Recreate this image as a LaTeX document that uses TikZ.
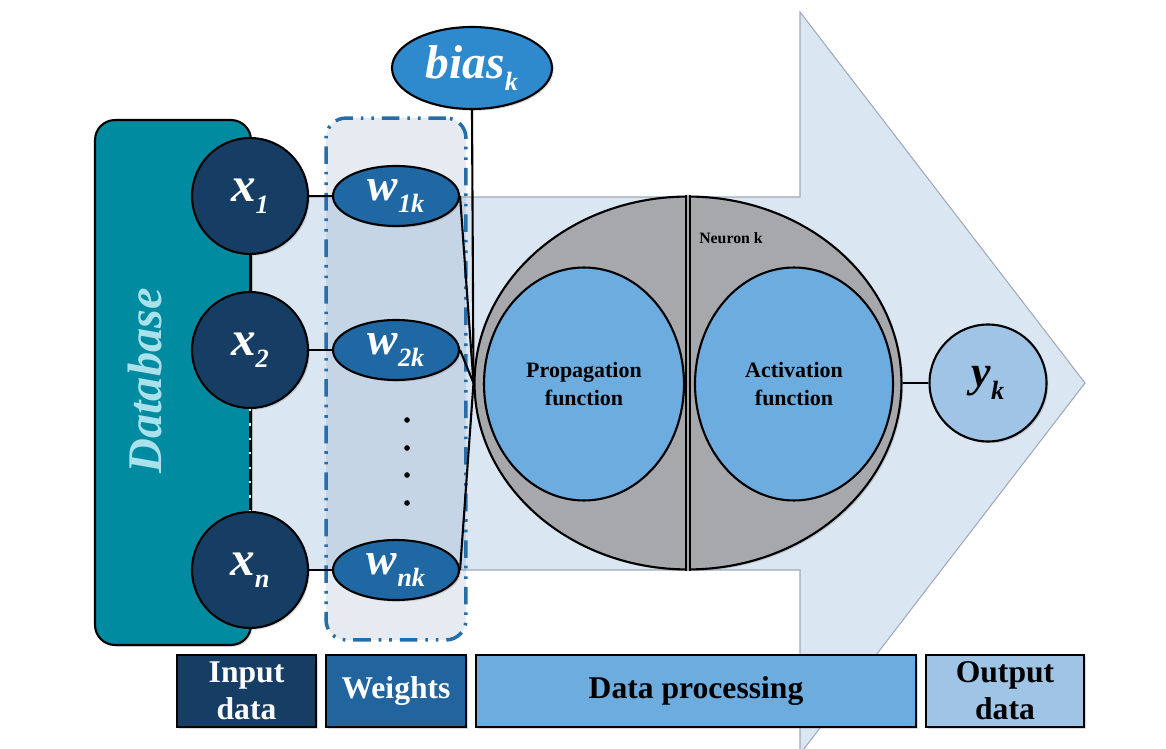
\documentclass[tikz,border=0pt]{standalone}
\usepackage{fontspec}
\setmainfont{Liberation Serif}
\usetikzlibrary{shapes.geometric,shadows}

\definecolor{arrowfill}{RGB}{218,230,242}
\definecolor{arrowline}{RGB}{160,170,182}
\definecolor{dbteal}{RGB}{0,139,161}
\definecolor{dbtext}{RGB}{170,226,236}
\definecolor{xnavy}{RGB}{22,62,100}
\definecolor{wblue}{RGB}{31,104,164}
\definecolor{biasblue}{RGB}{46,138,204}
\definecolor{neurgray}{RGB}{166,168,172}
\definecolor{innerblue}{RGB}{108,172,222}
\definecolor{ylight}{RGB}{159,196,230}
\definecolor{wlegend}{RGB}{33,100,158}
\definecolor{dashblue}{RGB}{38,110,170}
\definecolor{wboxfill}{RGB}{90,120,160}

\newcommand{\lab}[3]{{\fontsize{#1}{#1}\selectfont\bfseries\itshape #2}\raisebox{-7pt}{\fontsize{15}{15}\selectfont\bfseries\itshape #3}}

\tikzset{
  sh/.style={drop shadow={shadow xshift=1pt,shadow yshift=-1pt,opacity=0.3}},
  bord/.style={draw=black,line width=1.2pt},
  xin/.style={circle,bord,fill=xnavy,minimum size=2.32cm,inner sep=0pt,text=white,sh},
  wnode/.style={ellipse,bord,fill=wblue,minimum width=2.52cm,minimum height=1.2cm,inner sep=0pt,text=white,sh},
  inner/.style={ellipse,bord,fill=innerblue,minimum height=4.66cm,inner sep=0pt,align=center,font=\fontsize{12.5}{15.5}\selectfont\bfseries},
  legend/.style={rectangle,draw=black,line width=1.5pt,minimum height=1.44cm,inner sep=0pt,align=center,font=\fontsize{18}{21}\selectfont\bfseries,sh},
  conn/.style={draw=black,line width=1.2pt},
  dashdotdot/.style={draw=dashblue,line width=2pt,dash pattern=on 10pt off 4.5pt on 1.5pt off 4.5pt on 1.5pt off 4.5pt}
}

\begin{document}
\begin{tikzpicture}[x=0.02cm,y=-0.02cm]
\useasboundingbox (0,0) rectangle (1166,749);
\clip (0,0) rectangle (1166,749);

% big arrow
\draw[fill=arrowfill,draw=arrowline,line width=0.6pt]
  (200,197) -- (800,197) -- (800,12) -- (1085,383) -- (800,754) -- (800,570) -- (200,570) -- cycle;

% database
\node[rectangle,rounded corners=0.4cm,bord,fill=dbteal,minimum width=3.12cm,minimum height=10.5cm,inner sep=0pt,sh] (db) at (173,382.5) {};
\node[rotate=90,text=dbtext,font=\fontsize{27.5}{27.5}\selectfont\bfseries\itshape] (dbt) at (145,381) {Database};

% weights box
\node[rectangle,rounded corners=0.4cm,dashdotdot,fill=wboxfill,fill opacity=0.15,minimum width=2.8cm,minimum height=10.44cm,inner sep=0pt] (wbox) at (396,379) {};

% input nodes
\node[xin] (x1) at (250,196) {\lab{28}{x}{1}};
\node[xin] (x2) at (250,350) {\lab{28}{x}{2}};
\node[xin] (xn) at (250,570) {\lab{28}{x}{n}};

\draw[conn] (x1.south) -- (x2.north);
\draw[conn] (x2.south) -- (xn.north);
\draw[white,line width=0.9pt,dash pattern=on 1.2pt off 7pt] (x2.south) -- (xn.north);

% weight nodes
\node[wnode] (w1) at (396,196) {\lab{26}{w}{1k}};
\node[wnode] (w2) at (396,350) {\lab{26}{w}{2k}};
\node[wnode] (wn) at (396,570) {\lab{26}{w}{nk}};

\foreach \yy in {420,448,475,503} \fill (407,\yy) circle (1.6pt);

\draw[conn] (x1.east) -- (w1.west);
\draw[conn] (x2.east) -- (w2.west);
\draw[conn] (xn.east) -- (wn.west);

% bias
\node[ellipse,bord,fill=biasblue,minimum width=3.2cm,minimum height=1.64cm,inner sep=0pt,text=white,sh] (bias) at (472,68) {\lab{27}{bias}{k}};

% neuron
\node[ellipse,bord,fill=neurgray,minimum width=8.54cm,minimum height=7.46cm,inner sep=0pt,sh] (neuron) at (688,383) {};
\draw[double=neurgray,double distance=1.6pt,line width=0.8pt] (neuron.north) -- (neuron.south);
\node[inner,minimum width=4cm] (prop) at (584,384) {Propagation\\function};
\node[inner,minimum width=3.96cm] (act) at (794,384) {Activation\\function};
\node[font=\fontsize{9}{9}\selectfont\bfseries] (nk) at (731,238) {Neuron k};

\draw[conn] (w1.east) -- (neuron.west);
\draw[conn] (w2.east) -- (neuron.west);
\draw[conn] (wn.east) -- (neuron.west);
\draw[conn] (bias.south) -- (neuron.west);

% output
\node[circle,bord,fill=ylight,minimum size=2.34cm,inner sep=0pt,sh] (yk) at (988,383) {\lab{25}{y}{k}};
\draw[conn] (neuron.east) -- (yk.west);

% legend
\node[legend,fill=xnavy,text=white,minimum width=2.78cm] (lin) at (246.5,691) {Input\\data};
\node[legend,fill=wlegend,text=white,minimum width=2.8cm] (lw) at (396,691) {Weights};
\node[legend,fill=innerblue,minimum width=8.8cm] (lp) at (696,691) {Data processing};
\node[legend,fill=ylight,minimum width=3.16cm] (lo) at (1005,691) {Output\\data};
\end{tikzpicture}
\end{document}
